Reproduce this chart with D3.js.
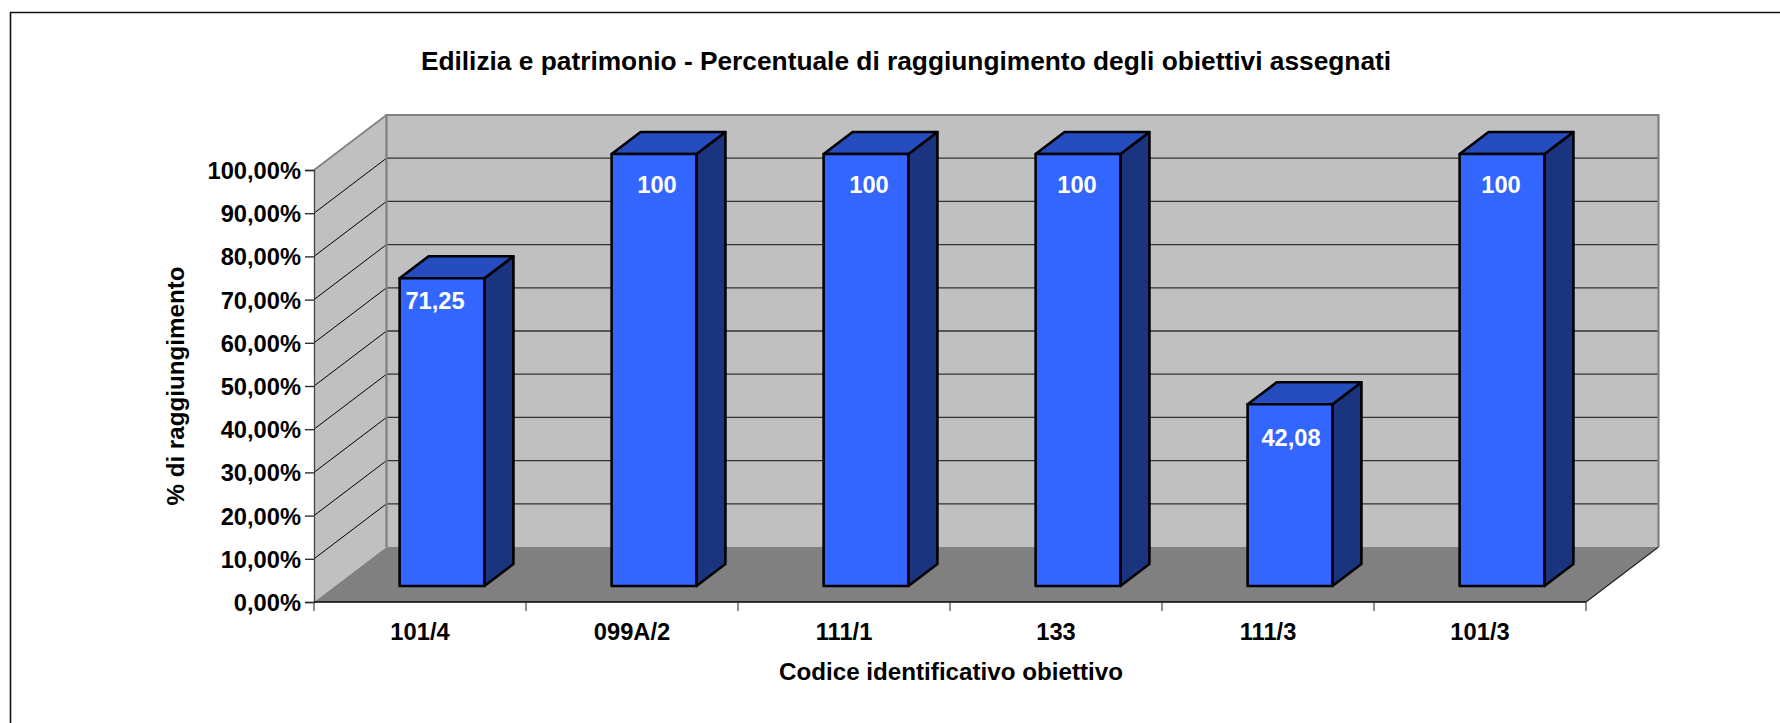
<!DOCTYPE html>
<html>
<head>
<meta charset="utf-8">
<script src="https://cdn.jsdelivr.net/npm/d3@7/dist/d3.min.js"></script>
<style>
html,body{margin:0;padding:0;background:#fff;}
svg{display:block;}
text{font-family:"Liberation Sans",Arial,sans-serif;font-weight:bold;fill:#000;}
</style>
</head>
<body>
<svg id="c" width="1780" height="723"></svg>
<script>
const categories = ["101/4","099A/2","111/1","133","111/3","101/3"];
const values = [71.25,100,100,100,42.08,100];
const valueLabels = ["71,25","100","100","100","42,08","100"];
const yTicks = [0,10,20,30,40,50,60,70,80,90,100];
const titleText = "Edilizia e patrimonio - Percentuale di raggiungimento degli obiettivi assegnati";
const xTitle = "Codice identificativo obiettivo";
const yTitle = "% di raggiungimento";

const svg = d3.select("#c");
svg.append("path").attr("d","M1780,12.5H10.5V723").attr("fill","none").attr("stroke","#111").attr("stroke-width",1.6);

const x0=314,x1=1586,yBase=602,yTop=170,depX=72.5,depY=-55;
const y=d3.scaleLinear().domain([0,100]).range([yBase,yTop]);
const x=d3.scaleBand().domain(categories).range([x0+1,x1+1]).paddingInner(0.6).paddingOuter(0.3);
const cat=d3.scaleBand().domain(categories).range([x0,x1]);
// oblique projection
const P=(px,v,d)=>[px+d*depX,y(v)+d*depY];
const poly=(pts)=>"M"+pts.map(p=>p.join(",")).join("L")+"Z";
const line=(a,b)=>"M"+a.join(",")+"L"+b.join(",");

const g=svg.append("g");
// walls
g.append("path").attr("d",poly([P(x0,0,1),P(x1,0,1),P(x1,100,1),P(x0,100,1)])).attr("fill","#c0c0c0");
g.append("path").attr("d",poly([P(x0,0,0),P(x0,0,1),P(x0,100,1),P(x0,100,0)])).attr("fill","#c0c0c0");
g.append("path").attr("d",poly([P(x0,0,0),P(x1,0,0),P(x1,0,1),P(x0,0,1)])).attr("fill","#808080");

// gridlines
yTicks.filter(t=>t>0&&t<100).forEach(t=>{
  g.append("path").attr("d",line(P(x0,t,0),P(x0,t,1))).attr("stroke","#000").attr("stroke-width",1).attr("fill","none");
  g.append("path").attr("d",line(P(x0,t,1),P(x1,t,1))).attr("stroke","#333").attr("stroke-width",1.3).attr("fill","none");
});
// wall edges
g.append("path").attr("d","M"+[P(x0,0,1),P(x0,100,1),P(x1,100,1),P(x1,0,1)].map(p=>p.join(",")).join("L"))
  .attr("fill","none").attr("stroke","#808080").attr("stroke-width",2.2);
g.append("path").attr("d",line(P(x0,100,0),P(x0,100,1))).attr("stroke","#808080").attr("stroke-width",1.6);
g.append("path").attr("d",line(P(x1,0,0),P(x1,0,1))).attr("stroke","#222").attr("stroke-width",1.2);

// bars
const d0=0.29,d1=0.69;
const bars=g.selectAll("g.bar").data(categories.map((c,i)=>({c,v:values[i],l:valueLabels[i],i}))).join("g").attr("class","bar");
const sw=2.6;
bars.append("path").attr("d",d=>{const r=x(d.c)+x.bandwidth();
  return poly([P(r,0,d0),P(r,0,d1),P(r,d.v,d1),P(r,d.v,d0)]);})
  .attr("fill","#1a3480").attr("stroke","#000").attr("stroke-width",sw).attr("stroke-linejoin","round");
bars.append("path").attr("d",d=>{const a=x(d.c),r=a+x.bandwidth();
  return poly([P(a,d.v,d0),P(r,d.v,d0),P(r,d.v,d1),P(a,d.v,d1)]);})
  .attr("fill","#264dbf").attr("stroke","#000").attr("stroke-width",sw).attr("stroke-linejoin","round");
bars.append("path").attr("d",d=>{const a=x(d.c),r=a+x.bandwidth();
  return poly([P(a,0,d0),P(r,0,d0),P(r,d.v,d0),P(a,d.v,d0)]);})
  .attr("fill","#3366ff").attr("stroke","#000").attr("stroke-width",sw).attr("stroke-linejoin","round");
// label placement relative to each bar's top-centre
const labelDx=[-7,3,3,-1,1,-1];
const labelDy=[31,39,39,39,42,39];
bars.append("text").attr("x",d=>P(x(d.c)+x.bandwidth()/2,0,d0)[0]+labelDx[d.i])
  .attr("y",d=>P(0,d.v,d0)[1]+labelDy[d.i]).attr("text-anchor","middle").attr("font-size",23.7)
  .style("fill","#fff").text(d=>d.l);

// axes
const yAxis=d3.axisLeft(y).tickValues(yTicks).tickSize(9).tickPadding(4).tickFormat(t=>t.toFixed(2).replace(".",",")+"%");
const ya=svg.append("g").attr("transform",`translate(${x0},0)`).call(yAxis);
ya.selectAll("text").attr("font-size",23.7).attr("dy","0.36em").style("font-family",'"Liberation Sans",Arial,sans-serif');
ya.selectAll("line").attr("stroke","#222").attr("stroke-width",1.3);
ya.select(".domain").attr("stroke","#444").attr("stroke-width",1.3);

const xAxis=d3.axisBottom(cat).tickSize(0).tickPadding(21);
const xa=svg.append("g").attr("transform",`translate(0,${yBase})`).call(xAxis);
xa.selectAll("text").attr("font-size",23.7).attr("dy","0.71em").style("font-family",'"Liberation Sans",Arial,sans-serif');
xa.select(".domain").attr("d",`M${x0},0H${x1}`).attr("stroke","#000").attr("stroke-width",1.5);
categories.concat(["end"]).forEach((c,i)=>{
  const px=x0+i*cat.step();
  xa.append("line").attr("x1",px).attr("x2",px).attr("y1",0).attr("y2",9).attr("stroke","#444").attr("stroke-width",1.2);
});

svg.append("text").attr("x",906).attr("y",70).attr("text-anchor","middle").attr("font-size",26.3).text(titleText);
svg.append("text").attr("x",951).attr("y",680).attr("text-anchor","middle").attr("font-size",24.2).text(xTitle);
svg.append("text").attr("transform","translate(184,386) rotate(-90)").attr("text-anchor","middle").attr("font-size",24.2).text(yTitle);
</script>
</body>
</html>
